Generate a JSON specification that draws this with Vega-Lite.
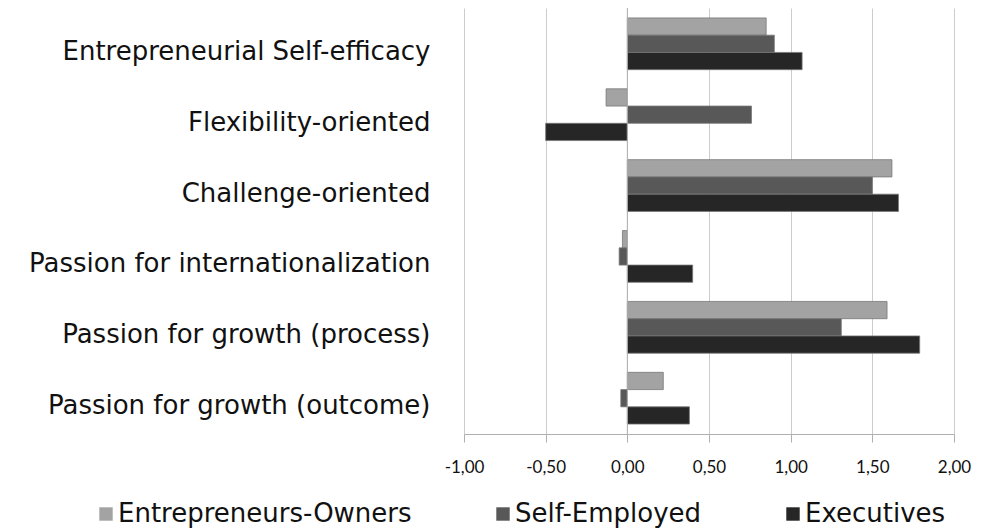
{
  "$schema": "https://vega.github.io/schema/vega-lite/v6.json",
  "autosize": {"type": "none"},
  "width": 490,
  "height": 426,
  "padding": {"left": 464, "top": 8, "right": 31, "bottom": 98},
  "background": "white",
  "config": {"view": {"stroke": null}, "font": "Lato"},
  "data": {
    "values": [
      {"cat": "Entrepreneurial Self-efficacy", "group": "Entrepreneurs-Owners", "value": 0.85},
      {"cat": "Entrepreneurial Self-efficacy", "group": "Self-Employed", "value": 0.90},
      {"cat": "Entrepreneurial Self-efficacy", "group": "Executives", "value": 1.07},
      {"cat": "Flexibility-oriented", "group": "Entrepreneurs-Owners", "value": -0.13},
      {"cat": "Flexibility-oriented", "group": "Self-Employed", "value": 0.76},
      {"cat": "Flexibility-oriented", "group": "Executives", "value": -0.50},
      {"cat": "Challenge-oriented", "group": "Entrepreneurs-Owners", "value": 1.62},
      {"cat": "Challenge-oriented", "group": "Self-Employed", "value": 1.50},
      {"cat": "Challenge-oriented", "group": "Executives", "value": 1.66},
      {"cat": "Passion for internationalization", "group": "Entrepreneurs-Owners", "value": -0.03},
      {"cat": "Passion for internationalization", "group": "Self-Employed", "value": -0.05},
      {"cat": "Passion for internationalization", "group": "Executives", "value": 0.40},
      {"cat": "Passion for growth (process)", "group": "Entrepreneurs-Owners", "value": 1.59},
      {"cat": "Passion for growth (process)", "group": "Self-Employed", "value": 1.31},
      {"cat": "Passion for growth (process)", "group": "Executives", "value": 1.79},
      {"cat": "Passion for growth (outcome)", "group": "Entrepreneurs-Owners", "value": 0.22},
      {"cat": "Passion for growth (outcome)", "group": "Self-Employed", "value": -0.04},
      {"cat": "Passion for growth (outcome)", "group": "Executives", "value": 0.38}
    ]
  },
  "layer": [
    {
      "mark": {"type": "bar", "stroke": "#777777", "strokeWidth": 0.8},
      "encoding": {
        "y": {
          "field": "cat", "type": "nominal", "sort": null,
          "scale": {"paddingInner": 0.27, "paddingOuter": 0.14},
          "axis": {"title": null, "domain": false, "ticks": false, "labelPadding": 34, "labelOffset": 8, "labelFont": "DejaVu Sans", "labelFontSize": 26, "labelColor": "#111111", "labelLimit": 500}
        },
        "yOffset": {"field": "group", "type": "nominal", "sort": ["Entrepreneurs-Owners", "Self-Employed", "Executives"]},
        "x": {
          "field": "value", "type": "quantitative",
          "scale": {"domain": [-1, 2], "nice": false},
          "axis": {"title": null, "values": [-1, -0.5, 0, 0.5, 1, 1.5, 2], "labelExpr": "replace(replace(format(datum.value, '.2f'), '.', ','), '\u2212', '-')", "labelFlush": false, "labelFontSize": 17, "labelColor": "#111111", "labelPadding": 17, "grid": true, "gridColor": "#cccccc", "domainColor": "#b0b0b0", "tickColor": "#b0b0b0", "tickSize": 8}
        },
        "color": {
          "field": "group", "type": "nominal",
          "sort": ["Entrepreneurs-Owners", "Self-Employed", "Executives"],
          "scale": {"domain": ["Entrepreneurs-Owners", "Self-Employed", "Executives"], "range": ["#a3a3a3", "#585858", "#262626"]},
          "legend": {"title": null, "orient": "none", "direction": "horizontal", "legendX": -371, "legendY": 493, "symbolType": "square", "symbolSize": 180, "symbolStrokeWidth": 0, "labelFont": "DejaVu Sans", "labelFontSize": 26, "labelColor": "#111111", "labelLimit": 500, "columnPadding": 78, "labelOffset": -1}
        }
      }
    },
    {
      "data": {"values": [{"x": 0}]},
      "mark": {"type": "rule", "color": "#b0b0b0", "strokeWidth": 1},
      "encoding": {"x": {"field": "x", "type": "quantitative"}}
    }
  ]
}
